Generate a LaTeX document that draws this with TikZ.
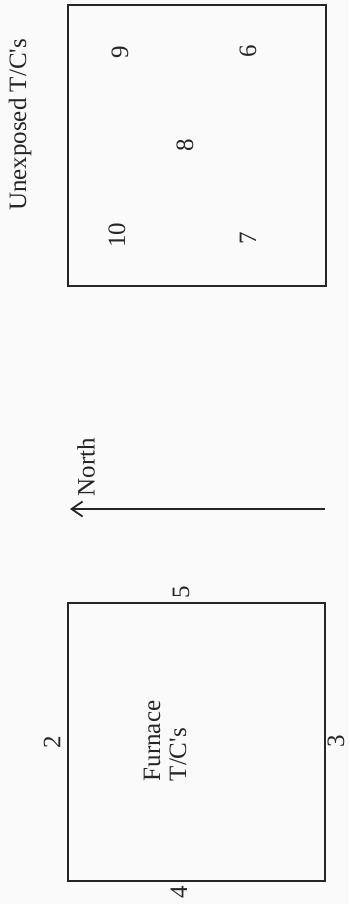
\documentclass[tikz,border=0pt]{standalone}
\usepackage{fontspec}
\setmainfont{Liberation Serif}
\usetikzlibrary{arrows.meta}
\begin{document}
\begin{tikzpicture}[x=1pt,y=-1pt,
  lbl/.style={rotate=90,inner sep=0pt,font=\fontsize{25}{26}\selectfont,text=black!85},
  frame/.style={draw=black!85,line width=1.5pt,inner sep=0pt},
  northarrow/.style={draw=black!85,line width=1.3pt,-{Straight Barb[length=11pt,width=15pt,line width=1.8pt]}}]
\fill[black!2] (0,0) rectangle (349,904);
\useasboundingbox (0,0) rectangle (349,904);
% top square
\node[frame,minimum width=258pt,minimum height=281pt] (unexp) at (197,145.5) {};
\node[lbl] (tunexp) at (20,125) {Unexposed T/C\textquotesingle s};
\node[lbl] (t9) at (120,52) {9};
\node[lbl] (t6) at (248,51) {6};
\node[lbl] (t8) at (185,145) {8};
\node[lbl] (t10) at (117,235) {10};
\node[lbl] (t7) at (248,238) {7};
% north arrow
\coordinate (ns) at (325,509);
\coordinate (nn) at (70,509);
\draw[northarrow] (ns) -- (nn);
\node[lbl] (north) at (86,467) {North};
% bottom square
\node[frame,minimum width=257pt,minimum height=278pt] (furn) at (196.5,742) {};
\node[lbl,align=left] (tfurn) at (165,741) {Furnace\\T/C\textquotesingle s};
\node[lbl] (t2) at (52,742) {2};
\node[lbl] (t3) at (336,741) {3};
\node[lbl] (t4) at (179,892) {4};
\node[lbl] (t5) at (181,592) {5};
\end{tikzpicture}
\end{document}
